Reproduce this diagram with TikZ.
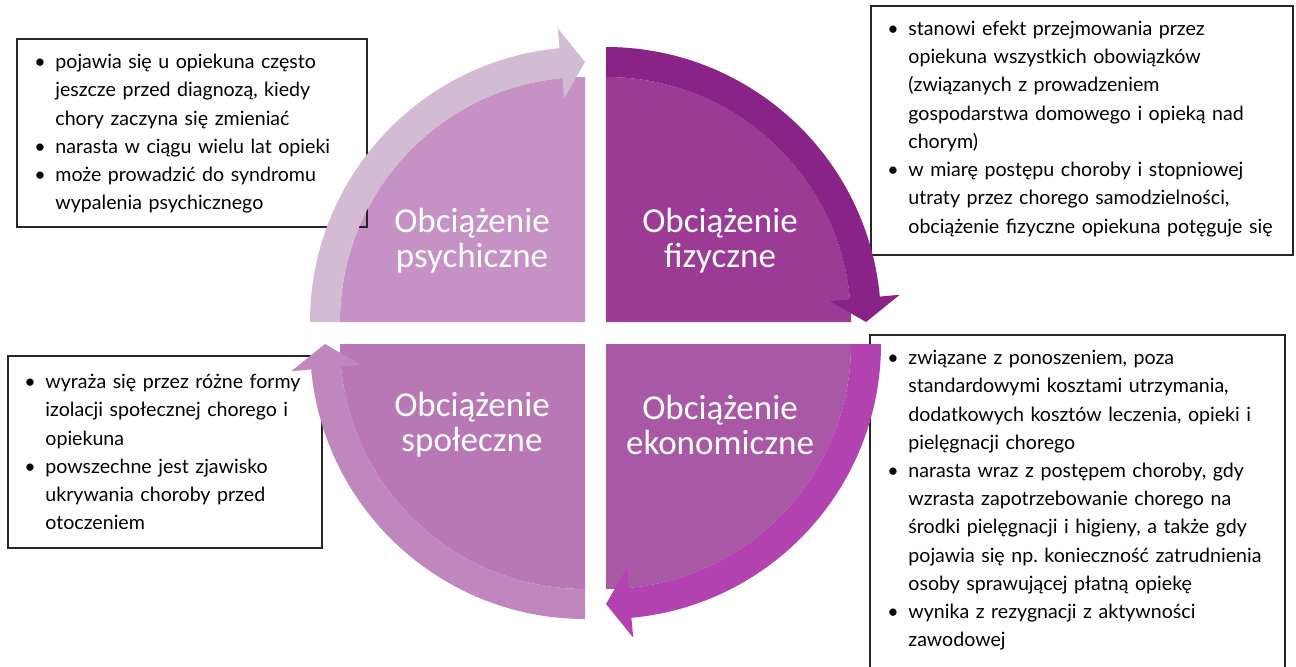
\documentclass[tikz,border=0pt]{standalone}
\usepackage{fontspec}
\setmainfont{Lato}
\newfontfamily\quadfont{Carlito}
\usetikzlibrary{calc}

\definecolor{psychfill}{HTML}{C691C4}
\definecolor{psychband}{HTML}{D3BCD3}
\definecolor{fizfill}{HTML}{9B3B96}
\definecolor{fizband}{HTML}{8A2387}
\definecolor{ekonfill}{HTML}{A958A6}
\definecolor{ekonband}{HTML}{B243B0}
\definecolor{spolfill}{HTML}{B877B5}
\definecolor{spolband}{HTML}{C086BE}

\newcommand{\bul}[1]{\par\hangindent=9pt\hangafter=1\noindent\makebox[9pt][l]{\hspace{-1.5pt}\textbullet}\strut#1\par}

\tikzset{
  quad/.style={font=\quadfont\fontsize{17.5}{17.5}\selectfont, text=white, align=center},
  infobox/.style={draw=black!85, line width=1pt, outer sep=0pt, inner sep=0pt, anchor=north west},
  infotext/.style={anchor=north west, inner sep=0pt, text width=250pt, align=left,
    font=\fontsize{9.8}{14.1}\selectfont},
}

\begin{document}
\begin{tikzpicture}[x=0.5pt,y=0.5pt]
\useasboundingbox (0,0) rectangle (1296,666);
\clip (0,0) rectangle (1296,666);

% corners of the four quarters
\coordinate (cpsych) at (585,344);
\coordinate (cfiz) at (606,344);
\coordinate (cekon) at (606,322);
\coordinate (cspol) at (585,322);

% quarter discs
\fill[psychfill] (cpsych) -- ++(180:245) arc (180:90:245) -- cycle;
\fill[fizfill] (cfiz) -- ++(90:245) arc (90:0:245) -- cycle;
\fill[ekonfill] (cekon) -- ++(0:245) arc (0:-90:245) -- cycle;
\fill[spolfill] (cspol) -- ++(270:245) arc (270:180:245) -- cycle;

% boxes with descriptions
\node[infobox, minimum width=175pt, minimum height=94pt] (boxpsych) at (17,627) {};
\node[infotext] (txtpsych) at ($(boxpsych.north west)+(20,-1)$) {%
  \bul{pojawia się u opiekuna często\newline jeszcze przed diagnozą, kiedy\newline chory zaczyna się zmieniać}
  \bul{narasta w ciągu wielu lat opieki}
  \bul{może prowadzić do syndromu\newline wypalenia psychicznego}};

\node[infobox, minimum width=211pt, minimum height=124.5pt] (boxfiz) at (871,660) {};
\node[infotext] (txtfiz) at ($(boxfiz.north west)+(19,-1)$) {%
  \bul{stanowi efekt przejmowania przez\newline opiekuna wszystkich obowiązków\newline (związanych z prowadzeniem\newline gospodarstwa domowego i opieką nad\newline chorym)}
  \bul{w miarę postępu choroby i stopniowej\newline utraty przez chorego samodzielności,\newline obciążenie fizyczne opiekuna potęguje się}};

\node[infobox, minimum width=207.5pt, minimum height=182.5pt] (boxekon) at (870,331) {};
\node[infotext] (txtekon) at ($(boxekon.north west)+(20,-1)$) {%
  \bul{związane z ponoszeniem, poza\newline standardowymi kosztami utrzymania,\newline dodatkowych kosztów leczenia, opieki i\newline pielęgnacji chorego}
  \bul{narasta wraz z postępem choroby, gdy\newline wzrasta zapotrzebowanie chorego na\newline środki pielęgnacji i higieny, a także gdy\newline pojawia się np.\ konieczność zatrudnienia\newline osoby sprawującej płatną opiekę}
  \bul{wynika z rezygnacji z aktywności\newline zawodowej}};

\node[infobox, minimum width=157pt, minimum height=96pt] (boxspol) at (8,310) {};
\node[infotext] (txtspol) at ($(boxspol.north west)+(19,-4)$) {%
  \bul{wyraża się przez różne formy\newline izolacji społecznej chorego i\newline opiekuna}
  \bul{powszechne jest zjawisko\newline ukrywania choroby przed\newline otoczeniem}};

% curved arrows along the rim
\foreach \c/\a/\col in {cpsych/180/psychband, cfiz/90/fizband, cekon/0/ekonband, cspol/270/spolband}{
  \pgfmathsetmacro\b{\a-84.7}
  \pgfmathsetmacro\t{\a-90}
  \fill[\col] ($(\c)+(\a:275)$) arc (\a:\b:275) -- ($(\c)+(\b:295)$) -- ($(\c)+(\t:260)$)
    -- ($(\c)+(\b:225)$) -- ($(\c)+(\b:245)$) arc (\b:\a:245) -- cycle;
}

% labels
\node[quad] (psych) at (472,425) {Obciążenie\\psychiczne};
\node[quad] (fiz) at (720,425) {Obciążenie\\fizyczne};
\node[quad] (spol) at (472,241) {Obciążenie\\społeczne};
\node[quad] (ekon) at (720,241) {Obciążenie\\ekonomiczne};
\end{tikzpicture}
\end{document}
